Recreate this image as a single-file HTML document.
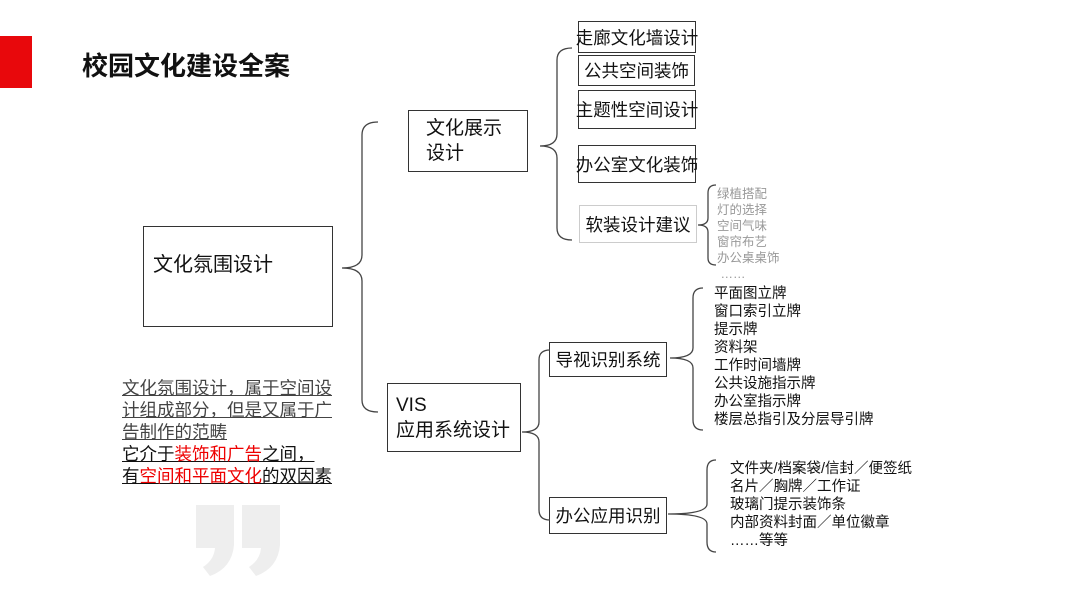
<!DOCTYPE html>
<html><head><meta charset="utf-8"><style>
body{margin:0;width:1080px;height:608px;background:#fff;position:relative;overflow:hidden;font-family:"Liberation Sans","Noto Sans CJK SC",sans-serif;color:#111}
.a{position:absolute;white-space:nowrap}
.b{position:absolute;border:1px solid #333;box-sizing:border-box;font-size:17.5px;display:flex;align-items:center;justify-content:center;white-space:nowrap}
.l{position:absolute;font-size:14.5px;line-height:18px;white-space:nowrap}
.g{position:absolute;font-size:12.5px;line-height:16px;color:#999;white-space:nowrap}
.q{position:absolute;left:122px;top:377px;font-size:17.5px;line-height:22px;white-space:nowrap}
.q span{text-decoration:underline}
.r{color:#e00}
</style></head><body>
<div class="a" style="left:0;top:36px;width:32px;height:52px;background:#e8080c"></div>
<div class="a" style="left:82px;top:46px;font-size:26px;font-weight:bold">校园文化建设全案</div>
<svg class="a" style="left:0;top:0" width="1080" height="608" fill="#eee">
<path d="M196 505 H234 V545 Q232 568 210 576 L203 567 Q214 560 215 548 H196 Z"/>
<path d="M242 505 H280 V545 Q278 568 256 576 L249 567 Q260 560 261 548 H242 Z"/>
</svg>
<div class="b" style="left:143px;top:226px;width:190px;height:101px;justify-content:flex-start;padding-left:9px;padding-bottom:28px;font-size:20px">文化氛围设计</div>
<div class="b" style="left:408px;top:110px;width:120px;height:62px;font-size:19px;line-height:25px;white-space:normal;justify-content:flex-start;padding-left:17px">文化展示<br>设计</div>
<div class="b" style="left:387px;top:383px;width:134px;height:69px;font-size:19px;line-height:25px;white-space:normal;justify-content:flex-start;padding-left:8px">VIS<br>应用系统设计</div>
<div class="b" style="left:578px;top:21px;width:118px;height:32px">走廊文化墙设计</div>
<div class="b" style="left:578px;top:55px;width:117px;height:31px">公共空间装饰</div>
<div class="b" style="left:578px;top:90px;width:118px;height:39px">主题性空间设计</div>
<div class="b" style="left:578px;top:145px;width:118px;height:38px">办公室文化装饰</div>
<div class="b" style="left:579px;top:205px;width:118px;height:38px;border-color:#ccc">软装设计建议</div>
<div class="b" style="left:549px;top:342px;width:118px;height:35px">导视识别系统</div>
<div class="b" style="left:549px;top:497px;width:118px;height:37px">办公应用识别</div>
<svg class="a" style="left:0;top:0" width="1080" height="608" fill="none" stroke="#444" stroke-width="1.3">
<path d="M378 122 Q362 122 362 135 L362 255 Q362 268 342 268 Q362 268 362 281 L362 400 Q362 412 378 412"/>
<path d="M572 48 Q557 48 557 60 L557 134 Q557 146 540 146 Q557 146 557 158 L557 228 Q557 240 572 240"/>
<path d="M716 185 Q708 185 708 193 L708 218 Q708 225 698 225 Q708 225 708 232 L708 258 Q708 265 716 265"/>
<path d="M550 350 Q539 350 539 360 L539 422 Q539 432 522 432 Q539 432 539 442 L539 510 Q539 520 550 520"/>
<path d="M703 288 Q693 288 693 298 L693 348 Q693 358 670 358 Q693 358 693 368 L693 420 Q693 430 703 430"/>
<path d="M716 460 Q707 460 707 470 L707 504 Q707 514 668 514 Q707 514 707 524 L707 542 Q707 552 716 552"/>
</svg>
<div class="g" style="left:717px;top:186px">绿植搭配<br>灯的选择<br>空间气味<br>窗帘布艺<br>办公桌桌饰<br>&nbsp;……</div>
<div class="l" style="left:714px;top:285px">平面图立牌<br>窗口索引立牌<br>提示牌<br>资料架<br>工作时间墙牌<br>公共设施指示牌<br>办公室指示牌<br>楼层总指引及分层导引牌</div>
<div class="l" style="left:730px;top:460px">文件夹/档案袋/信封／便签纸<br>名片／胸牌／工作证<br>玻璃门提示装饰条<br>内部资料封面／单位徽章<br>……等等</div>
<div class="q"><span style="color:#444">文化氛围设计，属于空间设</span><br><span style="color:#444">计组成部分，但是又属于广</span><br><span style="color:#444">告制作的范畴</span><br><span>它介于<b class="r" style="font-weight:normal">装饰和广告</b>之间，</span><br><span>有<b class="r" style="font-weight:normal">空间和平面文化</b>的双因素</span></div>
</body></html>
